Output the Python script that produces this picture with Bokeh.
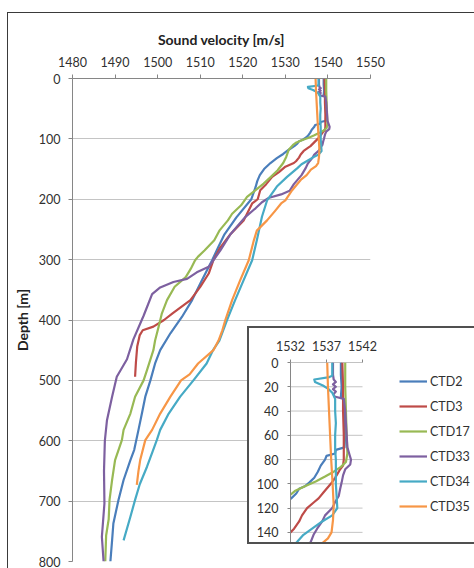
from bokeh.plotting import figure
from bokeh.models import Range1d, FixedTicker, Legend, LegendItem, Div
from bokeh.embed import file_html
from bokeh.resources import INLINE

# ---------------- data ----------------
x_ticks = [1480, 1490, 1500, 1510, 1520, 1530, 1540, 1550]
depth_ticks = [0, 100, 200, 300, 400, 500, 600, 700, 800]
inset_x_ticks = [1532, 1537, 1542]
inset_depth_ticks = [0, 20, 40, 60, 80, 100, 120, 140]

series_names = ["CTD2", "CTD3", "CTD17", "CTD33", "CTD34", "CTD35"]
series_colors = ["#4A7EBB", "#BE4B48", "#98B954", "#7D60A0", "#46AAC5", "#F79646"]

ctd2_depth = [0, 10, 20, 28, 31, 40, 50, 60, 70, 72, 75, 77, 80, 85, 90, 95, 99, 102, 104, 108,
              112, 118, 125, 132, 140, 150, 160, 170, 180, 200, 230, 258, 280, 301, 334, 367,
              395, 422, 450, 472, 500, 527, 555, 582, 615, 632, 665, 698, 737, 765, 800]
ctd2_vel = [1539.0, 1539.0, 1539.1, 1539.0, 1539.5, 1539.5, 1539.5, 1539.6, 1539.5, 1538.3,
            1538.2, 1537.0, 1536.8, 1536.2, 1535.8, 1535.3, 1534.6, 1534.0, 1533.2, 1532.8,
            1532.1, 1530.8, 1529.5, 1528.0, 1526.5, 1525.0, 1524.0, 1523.4, 1523.0, 1522.0,
            1518.5, 1515.7, 1514.2, 1512.8, 1510.4, 1508.1, 1505.7, 1503.0, 1500.6, 1499.4,
            1498.3, 1497.1, 1496.3, 1495.5, 1494.5, 1493.6, 1492.0, 1490.8, 1489.6, 1489.3,
            1488.9]

ctd3_depth = [0, 20, 40, 60, 80, 85, 88, 92, 95, 100, 107, 112, 115, 120, 126, 131, 137, 140,
              146, 155, 163, 175, 185, 200, 207, 235, 258, 280, 301, 323, 345, 367, 389, 400,
              411, 417, 425, 444, 470, 494]
ctd3_vel = [1539.2, 1539.3, 1539.3, 1539.4, 1539.4, 1539.3, 1538.9, 1538.5, 1538.2, 1537.6,
            1536.6, 1535.9, 1535.3, 1534.3, 1533.6, 1533.2, 1532.5, 1532.0, 1530.0, 1528.5,
            1526.9, 1525.5, 1524.1, 1523.5, 1522.2, 1520.2, 1517.1, 1514.7, 1513.1, 1512.0,
            1510.0, 1507.7, 1503.5, 1501.5, 1499.0, 1496.5, 1495.8, 1495.2, 1494.9, 1494.7]

ctd17_depth = [0, 20, 40, 60, 75, 82, 86, 90, 94, 98, 102, 106, 110, 118, 130, 140, 152, 163,
               174, 185, 196, 210, 224, 235, 252, 268, 285, 295, 301, 315, 329, 345, 367, 389,
               412, 434, 450, 483, 500, 527, 555, 582, 599, 632, 665, 698, 730, 757, 800]
ctd17_vel = [1539.6, 1539.6, 1539.7, 1539.8, 1539.9, 1539.7, 1539.0, 1538.0, 1536.8, 1535.5,
             1534.0, 1532.6, 1531.8, 1530.8, 1530.2, 1529.5, 1528.2, 1526.6, 1524.9, 1523.0,
             1521.0, 1519.6, 1517.5, 1516.5, 1514.5, 1513.3, 1511.0, 1509.5, 1508.8, 1507.8,
             1506.6, 1504.0, 1502.2, 1501.0, 1500.2, 1499.4, 1499.0, 1497.5, 1496.7, 1494.7,
             1493.6, 1492.0, 1491.6, 1490.0, 1489.3, 1488.7, 1488.5, 1487.9, 1487.7]

ctd33_depth = [0, 10, 14, 16, 18, 20, 22, 24, 26, 28, 30, 40, 50, 60, 70, 76, 80, 84, 88, 93,
               99, 104, 110, 115, 120, 126, 131, 137, 142, 148, 160, 175, 186, 192, 198, 205,
               215, 230, 258, 285, 312, 321, 332, 337, 346, 357, 393, 432, 465, 494, 527, 566,
               600, 650, 704, 759, 800]
ctd33_vel = [1537.9, 1537.9, 1538.0, 1538.3, 1537.9, 1538.3, 1537.9, 1538.3, 1538.0, 1538.1,
             1539.4, 1539.6, 1539.7, 1539.8, 1539.9, 1540.2, 1540.4, 1540.3, 1539.6, 1539.3,
             1539.1, 1538.9, 1538.7, 1538.2, 1537.8, 1536.8, 1536.4, 1535.7, 1535.2, 1534.8,
             1533.8, 1532.0, 1531.0, 1529.0, 1526.0, 1524.5, 1523.0, 1520.5, 1517.1, 1514.7,
             1512.0, 1509.2, 1506.9, 1503.7, 1500.6, 1498.7, 1496.7, 1494.3, 1492.8, 1490.4,
             1489.3, 1488.1, 1487.6, 1487.4, 1487.5, 1486.9, 1487.3]

ctd34_depth = [0, 11, 12, 14, 16, 19, 22, 25, 30, 40, 50, 60, 72, 80, 90, 100, 110, 120, 126,
               131, 137, 142, 148, 163, 179, 196, 202, 229, 268, 301, 334, 367, 400, 434, 450,
               472, 500, 527, 555, 582, 599, 620, 643, 672, 698, 726, 765]
ctd34_vel = [1537.8, 1537.8, 1537.4, 1535.3, 1535.4, 1536.5, 1537.3, 1537.8, 1538.2, 1538.2,
             1538.3, 1538.2, 1538.2, 1538.3, 1538.3, 1538.3, 1538.4, 1538.5, 1537.8, 1536.4,
             1535.0, 1533.8, 1532.9, 1530.4, 1528.0, 1526.3, 1525.7, 1524.5, 1523.3, 1522.2,
             1520.2, 1518.2, 1516.3, 1514.5, 1513.0, 1511.5, 1508.4, 1505.3, 1502.6, 1500.6,
             1499.8, 1498.7, 1497.5, 1495.8, 1494.7, 1493.6, 1492.0]

ctd35_depth = [0, 20, 40, 60, 80, 100, 118, 130, 140, 145, 151, 160, 168, 185, 202, 207, 220,
               235, 252, 268, 301, 334, 367, 400, 417, 434, 450, 472, 490, 500, 527, 555, 582,
               599, 632, 650, 673]
ctd35_vel = [1537.1, 1537.2, 1537.35, 1537.5, 1537.65, 1537.85, 1538.0, 1537.9, 1537.7,
             1537.2, 1536.0, 1535.0, 1533.6, 1531.6, 1530.0, 1529.0, 1527.5, 1525.7, 1523.3,
             1522.6, 1521.4, 1519.4, 1517.5, 1515.9, 1515.2, 1514.3, 1513.1, 1509.5, 1507.5,
             1505.5, 1503.0, 1500.6, 1498.7, 1497.1, 1495.9, 1495.5, 1495.1]

series_depths = [ctd2_depth, ctd3_depth, ctd17_depth, ctd33_depth, ctd34_depth, ctd35_depth]
series_vels = [ctd2_vel, ctd3_vel, ctd17_vel, ctd33_vel, ctd34_vel, ctd35_vel]

FONT = "Lato"
TEXT = "#303030"
AXIS = "#868686"
GRID = "#c4c4c4"


def place(left, top, z):
    return {"position": "absolute", "left": f"{left}px", "top": f"{top}px", "z-index": str(z)}


def style_axes(fig, label_size):
    for ax in (fig.xaxis[0], fig.yaxis[0]):
        ax.axis_line_color = AXIS
        ax.major_tick_line_color = AXIS
        ax.minor_tick_line_color = None
        ax.major_tick_in = 0
        ax.major_tick_out = 4
        ax.major_label_text_font = FONT
        ax.major_label_text_font_size = label_size
        ax.major_label_text_color = TEXT
        ax.axis_label_text_font = FONT
        ax.axis_label_text_font_style = "bold"
        ax.axis_label_text_font_size = "14px"
        ax.axis_label_text_color = "#222222"


# ---------------- main chart ----------------
p = figure(width=474, height=568, x_range=Range1d(1480, 1550), y_range=Range1d(800, 0),
           x_axis_location="above", output_backend="svg", toolbar_location=None,
           min_border_left=72, min_border_right=104, min_border_top=78, min_border_bottom=7,
           outline_line_color=None, background_fill_color="white", border_fill_color="white",
           margin=0, styles=place(0, 0, 0))
p.xaxis.ticker = FixedTicker(ticks=x_ticks)
p.yaxis.ticker = FixedTicker(ticks=depth_ticks)
p.xaxis.axis_label = "Sound velocity [m/s]"
p.yaxis.axis_label = "Depth [m]"
style_axes(p, "12.5px")
p.xaxis.major_label_standoff = 8
p.xaxis.axis_label_standoff = 6
p.yaxis.major_label_standoff = 8
p.yaxis.axis_label_standoff = 5
p.xgrid.visible = False
p.ygrid.grid_line_color = GRID
p.ygrid.ticker = FixedTicker(ticks=depth_ticks)

for d, v, c in zip(series_depths, series_vels, series_colors):
    p.line(v, d, line_color=c, line_width=2.2, line_join="round")

# ---------------- inset ----------------
# frame spans the whole inset width (so the legend is inside it); the scale keeps
# 10 m/s over 72 px, as in the original inset
INSET_X, INSET_Y = 247, 326
INSET_W, INSET_H = 227, 218
INSET_LEFT, INSET_TOP = 43, 36
inset_frame_w = INSET_W - INSET_LEFT
inset_x_end = inset_x_ticks[0] + (inset_x_ticks[-1] - inset_x_ticks[0]) * inset_frame_w / 72.0

p2 = figure(width=INSET_W, height=INSET_H,
            x_range=Range1d(inset_x_ticks[0], inset_x_end), y_range=Range1d(150, 0),
            x_axis_location="above", output_backend="svg", toolbar_location=None,
            min_border_left=INSET_LEFT, min_border_right=0, min_border_top=INSET_TOP,
            min_border_bottom=0,
            outline_line_color=None, background_fill_color="white", border_fill_color="white",
            margin=0, styles=place(INSET_X, INSET_Y, 2))
p2.xaxis.ticker = FixedTicker(ticks=inset_x_ticks)
p2.yaxis.ticker = FixedTicker(ticks=inset_depth_ticks)
style_axes(p2, "12.5px")
p2.xaxis.axis_line_color = None
p2.xaxis.major_tick_out = 3
p2.yaxis.major_tick_out = 3
p2.xaxis.major_label_standoff = 9
p2.yaxis.major_label_standoff = 9
p2.xgrid.visible = False
p2.ygrid.visible = False

n_grid = len(inset_depth_ticks)
grid_colors = [AXIS] + [GRID] * (n_grid - 1)
p2.segment(x0=[inset_x_ticks[0]] * n_grid, x1=[inset_x_ticks[-1]] * n_grid,
           y0=inset_depth_ticks, y1=inset_depth_ticks, line_color=grid_colors, line_width=1)

items = []
for name, d, v, c in zip(series_names, series_depths, series_vels, series_colors):
    r = p2.line(v, d, line_color=c, line_width=2.2, line_join="round")
    items.append(LegendItem(label=name, renderers=[r]))

legend = Legend(items=items, location=(109, 28), padding=0, margin=0, spacing=5,
                glyph_width=28, glyph_height=20, label_height=20, label_standoff=3,
                border_line_color=None, background_fill_alpha=0,
                label_text_font=FONT, label_text_font_size="12.5px", label_text_color=TEXT)
p2.add_layout(legend)

outer_styles = place(7, 12, 1)
outer_styles.update({"border-left": "1px solid #3a3a3a", "border-top": "1px solid #3a3a3a",
                     "box-sizing": "border-box", "pointer-events": "none"})
outer_box = Div(text="", width=467, height=556, margin=0, styles=outer_styles)

box_styles = place(INSET_X, INSET_Y, 3)
box_styles.update({"border-left": "2px solid #505050", "border-top": "2px solid #505050",
                   "border-bottom": "2px solid #505050", "box-sizing": "border-box",
                   "pointer-events": "none"})
inset_box = Div(text="", width=INSET_W, height=INSET_H, margin=0, styles=box_styles)

open("out.html", "w").write(file_html([p, outer_box, p2, inset_box], INLINE))
